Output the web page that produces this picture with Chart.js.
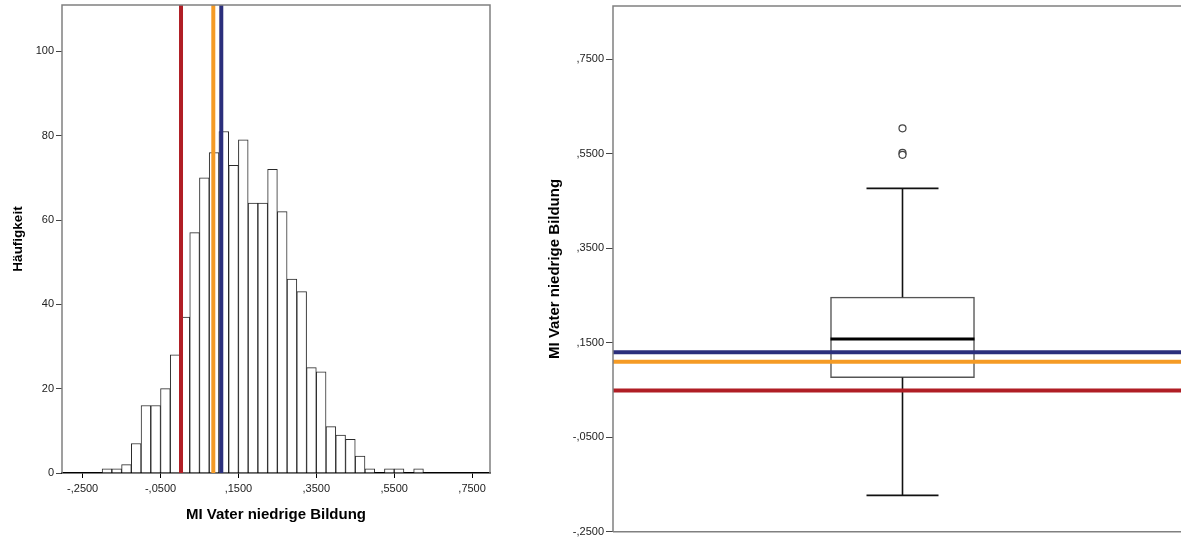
<!DOCTYPE html>
<html>
<head>
<meta charset="utf-8">
<script src="https://cdn.jsdelivr.net/npm/chart.js@4.4.1/dist/chart.umd.min.js"></script>
<style>
  html, body { margin: 0; padding: 0; background: #fff; overflow: hidden; }
  #page { position: relative; width: 1181px; height: 537px; overflow: hidden; }
  .panel { position: absolute; top: 0; height: 537px; }
  #histPanel { left: 0; width: 500px; }
  #boxPanel { left: 540px; width: 660px; }
</style>
</head>
<body>
<div id="page">
  <div class="panel" id="histPanel"><canvas id="hist"></canvas></div>
  <div class="panel" id="boxPanel"><canvas id="box"></canvas></div>
</div>
<script>
// histogram bins (lower edge) and counts
const binWidth = 0.025;
const binStarts = [-0.2, -0.175, -0.15, -0.125, -0.1, -0.075, -0.05, -0.025, 0, 0.025, 0.05,
  0.075, 0.1, 0.125, 0.15, 0.175, 0.2, 0.225, 0.25, 0.275, 0.3, 0.325, 0.35, 0.375, 0.4,
  0.425, 0.45, 0.475, 0.5, 0.525, 0.55, 0.575, 0.6];
const counts = [1, 1, 2, 7, 16, 16, 20, 28, 37, 57, 70, 76, 81, 73, 79, 64, 64, 72, 62, 46,
  43, 25, 24, 11, 9, 8, 4, 1, 0, 1, 1, 0, 1];

// reference lines (red, orange, blue)
const lineColors = ['#B01E25', '#F59B25', '#2B2F7C'];
const histLineValues = [0.0026, 0.0855, 0.106];
const boxLineValues = [0.049, 0.110, 0.130];

// boxplot summary
const boxMin = -0.173;
const boxQ1 = 0.0765;
const boxMedian = 0.158;
const boxQ3 = 0.2466;
const boxMax = 0.477;
const outliers = [0.604, 0.552, 0.548];

// axis ticks
const histXTicks = [-0.25, -0.05, 0.15, 0.35, 0.55, 0.75];
const histXLabels = ['-,2500', '-,0500', ',1500', ',3500', ',5500', ',7500'];
const histYTicks = [0, 20, 40, 60, 80, 100];
const histYLabels = ['0', '20', '40', '60', '80', '100'];
const boxYTicks = [-0.25, -0.05, 0.15, 0.35, 0.55, 0.75];
const boxYLabels = ['-,2500', '-,0500', ',1500', ',3500', ',5500', ',7500'];

const axisTitle = 'MI Vater niedrige Bildung';
const freqTitle = 'Häufigkeit';

const FONT = "'Liberation Sans', Arial, sans-serif";
const tickFont = { family: FONT, size: 11 };
const titleFont = { family: FONT, size: 15, weight: 'bold' };

const framePlugin = {
  id: 'frame',
  afterDatasetsDraw(chart, args, opts) {
    const { ctx, chartArea: a } = chart;
    ctx.save();
    ctx.strokeStyle = opts.color;
    ctx.lineWidth = opts.width;
    ctx.beginPath();
    ctx.moveTo(a.left, a.bottom);
    ctx.lineTo(a.left, a.top);
    ctx.lineTo(a.right, a.top);
    ctx.lineTo(a.right, a.bottom);
    if (opts.bottom) ctx.lineTo(a.left, a.bottom);
    ctx.stroke();
    ctx.restore();
  }
};

const refLinesPlugin = {
  id: 'refLines',
  afterDatasetsDraw(chart, args, opts) {
    const { ctx, chartArea: a, scales } = chart;
    ctx.save();
    ctx.lineWidth = opts.width;
    opts.values.forEach((v, i) => {
      ctx.strokeStyle = opts.colors[i];
      ctx.beginPath();
      if (opts.axis === 'x') {
        const px = scales.x.getPixelForValue(v);
        ctx.moveTo(px, a.top);
        ctx.lineTo(px, a.bottom);
      } else {
        const py = scales.y.getPixelForValue(v);
        ctx.moveTo(a.left, py);
        ctx.lineTo(a.right, py);
      }
      ctx.stroke();
    });
    ctx.restore();
  }
};

const boxPartsPlugin = {
  id: 'boxParts',
  afterDatasetsDraw(chart) {
    const { ctx, scales } = chart;
    const bar = chart.getDatasetMeta(0).data[0];
    const { x, width } = bar.getProps(['x', 'width'], true);
    const y = v => scales.y.getPixelForValue(v);
    ctx.save();
    ctx.strokeStyle = '#111';
    ctx.lineWidth = 1.6;
    ctx.beginPath();
    ctx.moveTo(x, y(boxQ3)); ctx.lineTo(x, y(boxMax));
    ctx.moveTo(x - width / 4, y(boxMax)); ctx.lineTo(x + width / 4, y(boxMax));
    ctx.moveTo(x, y(boxQ1)); ctx.lineTo(x, y(boxMin));
    ctx.moveTo(x - width / 4, y(boxMin)); ctx.lineTo(x + width / 4, y(boxMin));
    ctx.stroke();
    ctx.strokeStyle = '#000';
    ctx.lineWidth = 3;
    ctx.beginPath();
    ctx.moveTo(x - width / 2, y(boxMedian));
    ctx.lineTo(x + width / 2, y(boxMedian));
    ctx.stroke();
    ctx.restore();
  }
};

function noPad(s) {
  s.paddingLeft = 0; s.paddingRight = 0; s.paddingTop = 0; s.paddingBottom = 0;
}

new Chart(document.getElementById('hist'), {
  type: 'bar',
  data: {
    datasets: [{
      data: binStarts.map((b, i) => ({ x: b + binWidth / 2, y: counts[i] })),
      backgroundColor: '#ffffff',
      borderColor: '#2a2a2a',
      borderWidth: 1,
      barPercentage: 1,
      categoryPercentage: 1
    }]
  },
  plugins: [refLinesPlugin, framePlugin],
  options: {
    responsive: true,
    maintainAspectRatio: false,
    animation: false,
    layout: { padding: { top: 5, right: 10, bottom: 0, left: 0 } },
    plugins: {
      legend: { display: false },
      tooltip: { enabled: false },
      refLines: { axis: 'x', values: histLineValues, colors: lineColors, width: 4 },
      frame: { color: '#808080', width: 1.5, bottom: false }
    },
    scales: {
      x: {
        type: 'linear',
        offset: false,
        min: -0.303,
        max: 0.796,
        afterBuildTicks: s => { s.ticks = histXTicks.map(v => ({ value: v })); },
        afterFit: s => { s.height = 64; noPad(s); },
        ticks: {
          callback: (v, i) => histXLabels[i],
          font: tickFont, color: '#222', padding: 4, maxRotation: 0, autoSkip: false
        },
        grid: { offset: false, drawOnChartArea: false, drawTicks: true, tickLength: 5, color: '#000', lineWidth: 1 },
        border: { display: true, color: '#000', width: 1.5 },
        title: { display: true, text: axisTitle, font: titleFont, color: '#000', padding: { top: 0, bottom: 13 } }
      },
      y: {
        type: 'linear',
        min: 0,
        max: 111,
        afterBuildTicks: s => { s.ticks = histYTicks.map(v => ({ value: v })); },
        afterFit: s => { s.width = 62; noPad(s); },
        ticks: {
          callback: (v, i) => histYLabels[i],
          font: tickFont, color: '#222', padding: 2
        },
        grid: { drawOnChartArea: false, drawTicks: true, tickLength: 6, color: '#444', lineWidth: 1 },
        border: { display: false },
        title: { display: true, text: freqTitle, font: { family: FONT, size: 13.5, weight: 'bold' }, color: '#000', padding: { top: 10, bottom: 0 } }
      }
    }
  }
});

new Chart(document.getElementById('box'), {
  type: 'bar',
  data: {
    datasets: [{
      type: 'bar',
      data: [{ x: 0.5, y: [boxQ1, boxQ3] }],
      backgroundColor: '#ffffff',
      borderColor: '#555555',
      borderWidth: 1.5,
      borderSkipped: false,
      barThickness: 144
    }, {
      type: 'scatter',
      data: outliers.map(v => ({ x: 0.5, y: v })),
      pointRadius: 3.5,
      pointBorderWidth: 1.2,
      pointBorderColor: '#444',
      pointBackgroundColor: '#fff'
    }]
  },
  plugins: [boxPartsPlugin, refLinesPlugin, framePlugin],
  options: {
    responsive: true,
    maintainAspectRatio: false,
    animation: false,
    layout: { padding: { top: 6, right: 8, bottom: 5, left: 0 } },
    plugins: {
      legend: { display: false },
      tooltip: { enabled: false },
      refLines: { axis: 'y', values: boxLineValues, colors: lineColors, width: 4 },
      frame: { color: '#808080', width: 1.5, bottom: true }
    },
    scales: {
      x: { type: 'linear', min: 0, max: 1, display: false },
      y: {
        type: 'linear',
        min: -0.25,
        max: 0.863,
        afterBuildTicks: s => { s.ticks = boxYTicks.map(v => ({ value: v })); },
        afterFit: s => { s.width = 73; noPad(s); },
        ticks: {
          callback: (v, i) => boxYLabels[i],
          font: tickFont, color: '#222', padding: 2
        },
        grid: { drawOnChartArea: false, drawTicks: true, tickLength: 7, color: '#444', lineWidth: 1 },
        border: { display: false },
        title: { display: true, text: axisTitle, font: titleFont, color: '#000', padding: { top: 6, bottom: 0 } }
      }
    }
  }
});
</script>
</body>
</html>
